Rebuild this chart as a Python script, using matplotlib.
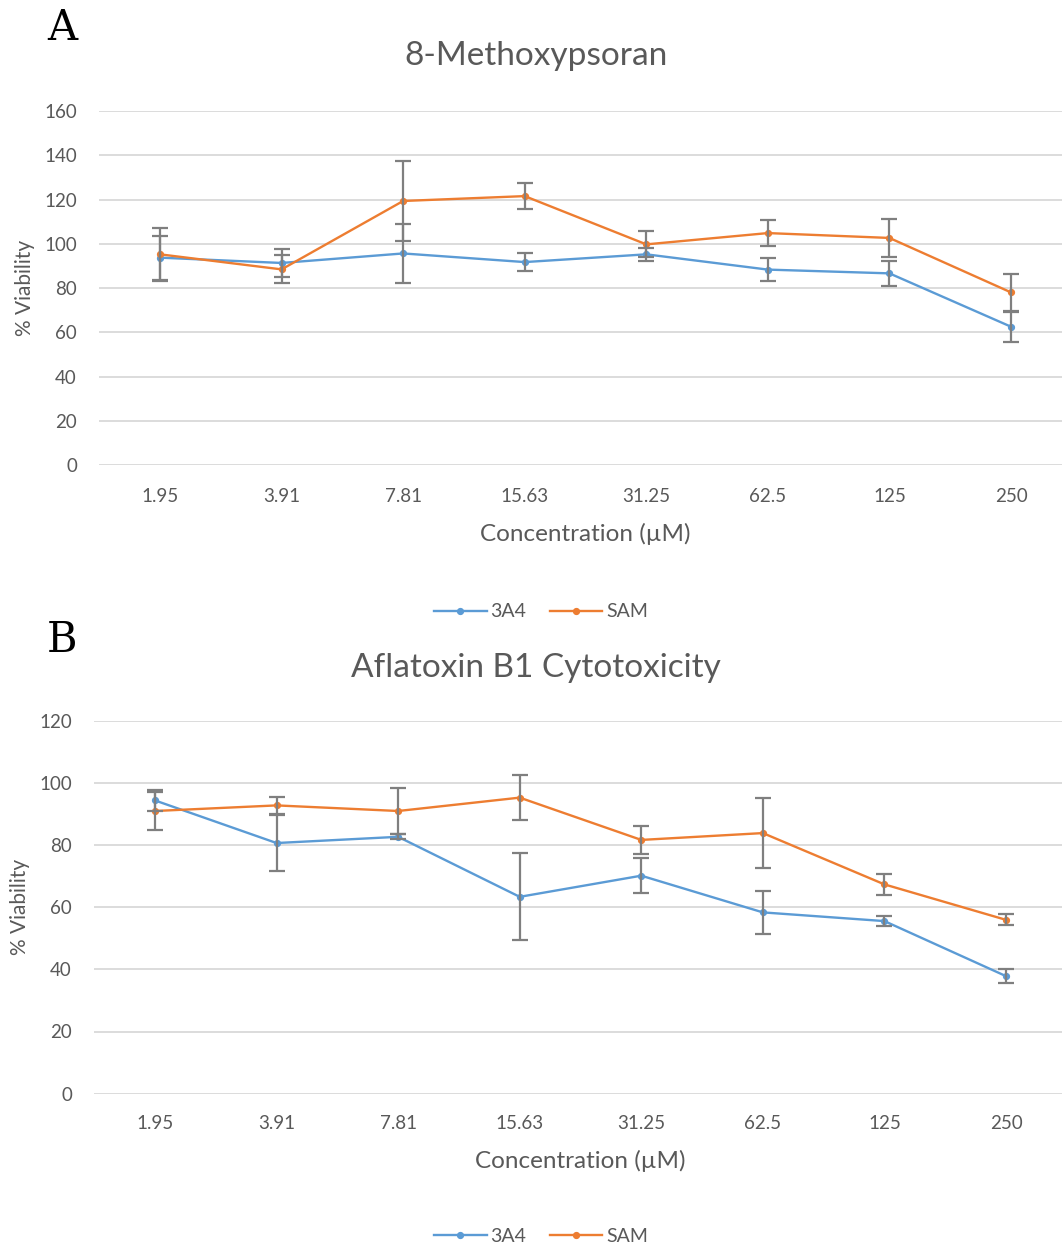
import matplotlib
matplotlib.use("Agg")
import matplotlib.pyplot as plt
from matplotlib.lines import Line2D

plt.rcParams['font.family'] = ['Lato', 'DejaVu Sans']

concentrations = ["1.95", "3.91", "7.81", "15.63", "31.25", "62.5", "125", "250"]

# Panel A: 8-Methoxypsoran
mop_3a4 = [93.8, 91.4, 95.7, 91.8, 95.3, 88.4, 86.7, 62.6]
mop_3a4_err = [10.0, 6.2, 13.3, 4.2, 3.0, 5.2, 5.8, 6.8]
mop_sam = [95.3, 88.5, 119.4, 121.6, 99.8, 104.9, 102.7, 78.1]
mop_sam_err = [12.0, 6.3, 18.2, 5.8, 5.9, 5.9, 8.4, 8.5]

# Panel B: Aflatoxin B1
afb_3a4 = [94.3, 80.6, 82.6, 63.3, 70.1, 58.3, 55.5, 37.8]
afb_3a4_err = [3.4, 9.0, 0.8, 14.0, 5.6, 6.8, 1.6, 2.2]
afb_sam = [90.9, 92.7, 90.9, 95.2, 81.6, 83.8, 67.3, 55.9]
afb_sam_err = [6.2, 2.8, 7.5, 7.3, 4.6, 11.2, 3.5, 1.8]

series_names = ["3A4", "SAM"]
BLUE = "#5B9BD5"
ORANGE = "#ED7D31"
GRAY_TXT = "#595959"
ERR = "#7F7F7F"
GRID = "#D9D9D9"

W, H = 1062, 1247
fig = plt.figure(figsize=(W / 100, H / 100), dpi=100)


def px_axes(left, right, top, bottom):
    return fig.add_axes([left / W, 1 - bottom / H, (right - left) / W, (bottom - top) / H])


def draw_panel(ax, y3a4, e3a4, ysam, esam, ymax, step, title, title_y, xpad):
    x = list(range(len(concentrations)))
    for y, c in ((y3a4, BLUE), (ysam, ORANGE)):
        ax.plot(x, y, color=c, lw=1.7, marker="o", ms=4.2, zorder=3)
    for y, e in ((y3a4, e3a4), (ysam, esam)):
        ax.errorbar(x, y, yerr=e, fmt="none", ecolor=ERR, elinewidth=1.6,
                    capsize=5.5, capthick=1.6, zorder=4)
    ax.set_xlim(-0.5, len(concentrations) - 0.5)
    ax.set_ylim(0, ymax)
    ax.set_yticks(range(0, ymax + 1, step))
    ax.set_xticks(x)
    ax.set_xticklabels(concentrations)
    ax.grid(axis="y", color=GRID, lw=1.3)
    ax.set_axisbelow(True)
    for s in ax.spines.values():
        s.set_visible(False)
    ax.tick_params(length=0, colors=GRAY_TXT, labelsize=13.5)
    ax.tick_params(axis="y", pad=16)
    ax.tick_params(axis="x", pad=xpad)
    ax.set_xlabel("Concentration (µM)", color=GRAY_TXT, fontsize=17.5, labelpad=13)
    ax.set_ylabel("% Viability", color=GRAY_TXT, fontsize=15, labelpad=7)
    fig.text(0.5 + 0.005, 1 - title_y / H, title, ha="center", va="center",
             color=GRAY_TXT, fontsize=24)


axA = px_axes(99.2, 1071.8, 111.1, 465.3)
draw_panel(axA, mop_3a4, mop_3a4_err, mop_sam, mop_sam_err, 160, 20,
           "8-Methoxypsoran", 56, 16)

axB = px_axes(94.2, 1066.8, 720.5, 1093.7)
draw_panel(axB, afb_3a4, afb_3a4_err, afb_sam, afb_sam_err, 120, 20,
           "Aflatoxin B1 Cytotoxicity", 668, 15.5)

handles = [Line2D([], [], color=BLUE, lw=1.7, marker="o", ms=4.2),
           Line2D([], [], color=ORANGE, lw=1.7, marker="o", ms=4.2)]
for ycen in (612, 1236):
    fig.legend(handles, series_names, loc="center", bbox_to_anchor=(541 / W, 1 - ycen / H),
               ncol=2, frameon=False, fontsize=14, labelcolor=GRAY_TXT,
               handlelength=2.7, handletextpad=0.2, columnspacing=1.2)

fig.text(62 / W, 1 - 28 / H, "A", ha="center", va="center", fontsize=30,
         family="DejaVu Serif", color="black")
fig.text(62 / W, 1 - 640 / H, "B", ha="center", va="center", fontsize=30,
         family="DejaVu Serif", color="black")

fig.savefig("out.png", dpi=100, facecolor="white")
